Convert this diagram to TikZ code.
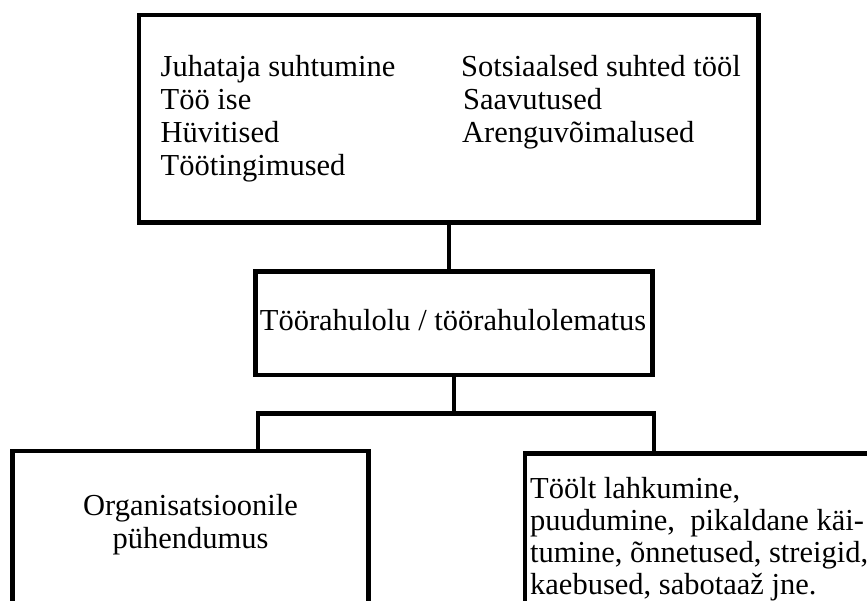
\documentclass[tikz,border=0pt]{standalone}
\usepackage{fontspec}
\setmainfont{Liberation Serif}
\begin{document}
\begin{tikzpicture}[x=1pt,y=-1pt,
  box/.style={draw=black,line width=4.3pt,rectangle,inner sep=0pt,outer sep=0pt},
  conn/.style={draw=black,line width=4.3pt},
  txt/.style={anchor=base west,inner sep=0pt,font=\fontsize{30.5}{33}\selectfont},
  ctxt/.style={anchor=base,inner sep=0pt,font=\fontsize{30.5}{33}\selectfont}]
\useasboundingbox (0,0) rectangle (867,601);
\clip (0,0) rectangle (867,601);
% boxes
\node[box,minimum width=619.3pt,minimum height=207.8pt] (top) at (448.7,118.6) {};
\node[box,minimum width=397pt,minimum height=103.6pt] (mid) at (454,323.4) {};
\node[box,minimum width=356pt,minimum height=170pt] (left) at (190.5,536.3) {};
\node[box,minimum width=360pt,minimum height=170pt] (right) at (705,538.5) {};
% connector coordinates
\coordinate (bl) at (258.3,413.5);
\coordinate (br) at (654,413.5);
\draw[conn] (top.south) -- (top.south |- mid.north);
\draw[conn] (mid.south) -- (mid.south |- bl);
\draw[conn,line cap=rect] (bl |- left.north) -- (bl) -- (br) -- (br |- right.north);
% texts
\node[txt] (t1) at (160.5,77) {Juhataja suhtumine};
\node[txt] (t2) at (160.5,110) {Töö ise};
\node[txt] (t3) at (160.5,143) {Hüvitised};
\node[txt] (t4) at (160.5,176) {Töötingimused};
\node[txt] (t5) at (461,77) {Sotsiaalsed suhted tööl};
\node[txt] (t6) at (463,110) {Saavutused};
\node[txt] (t7) at (462,143) {Arenguvõimalused};
\node[ctxt] (m1) at (453,331) {Töörahulolu / töörahulolematus};
\node[ctxt] (l1) at (190.5,515) {Organisatsioonile};
\node[ctxt] (l2) at (190.5,548) {pühendumus};
\node[txt] (r1) at (530,498) {Töölt lahkumine,};
\node[txt] (r2) at (530,530) {puudumine,\ \ pikaldane käi-};
\node[txt] (r3) at (530,562) {tumine, õnnetused, streigid,};
\node[txt] (r4) at (530,594) {kaebused, sabotaaž jne.};
\end{tikzpicture}
\end{document}
